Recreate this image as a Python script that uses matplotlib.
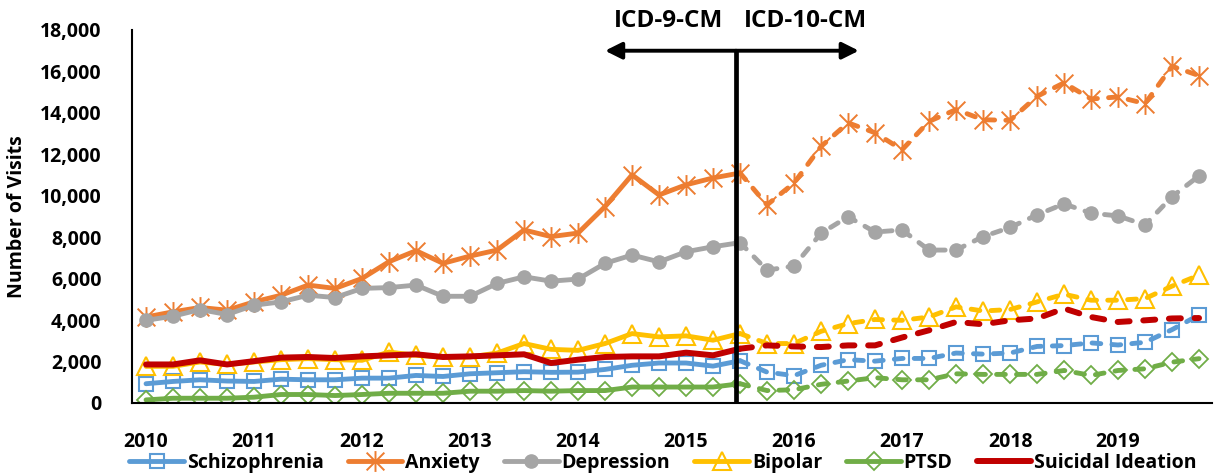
import matplotlib
matplotlib.use("Agg")
import matplotlib.pyplot as plt
import numpy as np
from matplotlib.path import Path
from matplotlib.lines import Line2D

plt.rcParams['font.family'] = ['Open Sans', 'DejaVu Sans']
plt.rcParams['font.weight'] = 'bold'

years = ['2010', '2011', '2012', '2013', '2014', '2015', '2016', '2017', '2018', '2019']

schizophrenia = [930, 1040, 1120, 1060, 1040, 1150, 1120, 1120, 1200, 1200, 1330, 1280, 1410, 1460,
                 1510, 1480, 1490, 1620, 1820, 1930, 1930, 1780, 2040, 1490, 1320, 1820, 2090, 2020,
                 2150, 2150, 2410, 2360, 2410, 2730, 2770, 2900, 2800, 2930, 3540, 4250]
anxiety = [4150, 4400, 4610, 4480, 4880, 5200, 5690, 5530, 6010, 6820, 7350, 6740, 7090, 7380,
           8350, 8030, 8200, 9480, 11010, 10040, 10530, 10860, 11100, 9560, 10620, 12380, 13520, 13040,
           12220, 13590, 14160, 13670, 13640, 14800, 15450, 14670, 14770, 14450, 16250, 15800]
depression = [3990, 4190, 4510, 4270, 4720, 4880, 5200, 5090, 5530, 5570, 5690, 5150, 5150, 5770,
              6090, 5880, 5980, 6740, 7140, 6810, 7300, 7540, 7740, 6410, 6610, 8190, 8990, 8250,
              8350, 7380, 7380, 8030, 8470, 9080, 9610, 9160, 9030, 8590, 9960, 10960]
bipolar = [1770, 1770, 1980, 1860, 1980, 2090, 2140, 2090, 2060, 2460, 2300, 2220, 2220, 2410,
           2870, 2590, 2540, 2870, 3350, 3190, 3240, 3030, 3350, 2870, 2870, 3460, 3830, 4030,
           3990, 4150, 4640, 4440, 4510, 4880, 5250, 4960, 4960, 5040, 5640, 6170]
ptsd = [150, 230, 230, 230, 280, 410, 410, 360, 410, 470, 470, 470, 570, 570,
        600, 570, 600, 600, 770, 770, 770, 770, 930, 600, 640, 900, 1060, 1220,
        1120, 1120, 1410, 1380, 1380, 1380, 1570, 1330, 1570, 1650, 1970, 2140]
suicidal = [1860, 1860, 2060, 1860, 2020, 2190, 2220, 2170, 2250, 2300, 2350, 2220, 2250, 2300,
            2350, 1930, 2090, 2220, 2250, 2250, 2430, 2300, 2620, 2780, 2730, 2700, 2780, 2780,
            3160, 3510, 3910, 3800, 3990, 4080, 4560, 4150, 3910, 3990, 4080, 4100]

series_names = ['Schizophrenia', 'Anxiety', 'Depression', 'Bipolar', 'PTSD', 'Suicidal Ideation']
series_values = [schizophrenia, anxiety, depression, bipolar, ptsd, suicidal]
colors = ['#5B9BD5', '#ED7D31', '#A5A5A5', '#FFC000', '#70AD47', '#C00000']

split = 22  # last ICD-9-CM quarter (2015 Q3)

star = Path([(0, -1), (0, 1), (-0.85, -0.85), (0.85, 0.85), (-0.85, 0.85), (0.85, -0.85)],
            [Path.MOVETO, Path.LINETO, Path.MOVETO, Path.LINETO, Path.MOVETO, Path.LINETO])

styles = [
    dict(marker='s', ms=10.5, mfc='none', mew=1.5),
    dict(marker=star, ms=15, mew=1.4),
    dict(marker='o', ms=9.5, mew=1),
    dict(marker='^', ms=12.5, mfc='none', mew=1.5),
    dict(marker='D', ms=9.5, mfc='none', mew=1.3),
    dict(marker=None),
]
lws = [3.5, 3.5, 3.5, 3.5, 3.5, 4.3]

fig = plt.figure(figsize=(12.32, 4.76), dpi=100)
ax = fig.add_axes([132/1232, 1-403/476, (1212-132)/1232, (403-30)/476])

for name, vals, c, st, lw in zip(series_names, series_values, colors, styles, lws):
    v = np.array(vals, dtype=float)
    x = np.arange(len(v))
    kw = dict(color=c, mec=c, lw=lw, solid_capstyle='round', solid_joinstyle='round',
              dash_capstyle='round', dash_joinstyle='round')
    kw.update(st)
    if st['marker'] is None:
        kw.pop('marker')
    ax.plot(x[:split+1], v[:split+1], linestyle='-', **kw)
    dash = (2.0, 2.3) if lw > 4 else (1.8, 2.3)
    ax.plot(x[split:], v[split:], linestyle=(0, dash), markevery=slice(1, None), **kw)

ax.set_xlim(-0.52, 39.48)
ax.set_ylim(0, 18000)
ax.set_yticks(np.arange(0, 18001, 2000))
ax.yaxis.set_major_formatter(matplotlib.ticker.FuncFormatter(lambda v, p: f'{int(v):,}'))
ax.set_xticks(np.arange(0, 40, 4))
ax.set_xticklabels(years)
ax.tick_params(axis='both', length=0, labelsize=14)
ax.tick_params(axis='y', pad=22)
ax.tick_params(axis='x', pad=21)
for lab in ax.get_xticklabels() + ax.get_yticklabels():
    lab.set_fontweight('bold')
for s in ['top', 'right']:
    ax.spines[s].set_visible(False)
ax.spines['left'].set_linewidth(1.5)
ax.spines['bottom'].set_linewidth(1.5)
ax.set_ylabel('Number of Visits', fontsize=14, fontweight='bold')
ax.yaxis.set_label_coords(-0.097, 0.5)

# ICD transition marker
xv = 21.85
ax.plot([xv, xv], [0, 17000], color='black', lw=3.4, solid_capstyle='butt', clip_on=False, zorder=10)
for xe in (17.0, 26.4):
    ax.annotate('', xy=(xe, 17000), xytext=(xv, 17000),
                arrowprops=dict(arrowstyle='-|>,head_length=1.0,head_width=0.5', color='black', lw=2.8,
                                shrinkA=0, shrinkB=0), annotation_clip=False)
fig.text(668/1232, 1-21/476, 'ICD-9-CM', ha='center', va='center', fontsize=17.5, fontweight='bold')
fig.text(805/1232, 1-21/476, 'ICD-10-CM', ha='center', va='center', fontsize=17.5, fontweight='bold')

handles = []
for c, st, lw in zip(colors, styles, lws):
    kw = dict(st)
    if kw.get('marker') is None:
        kw.pop('marker')
    handles.append(Line2D([0], [0], color=c, mec=c, lw=lw, solid_capstyle='round', **kw))
leg = fig.legend(handles, series_names, loc='center', bbox_to_anchor=(663/1232, 1-463/476),
                 ncol=6, frameon=False, fontsize=14, handlelength=2.8, handletextpad=0.15,
                 columnspacing=1.25, numpoints=1, borderpad=0, borderaxespad=0)
for t in leg.get_texts():
    t.set_fontweight('bold')

fig.savefig('out.png', dpi=100)
